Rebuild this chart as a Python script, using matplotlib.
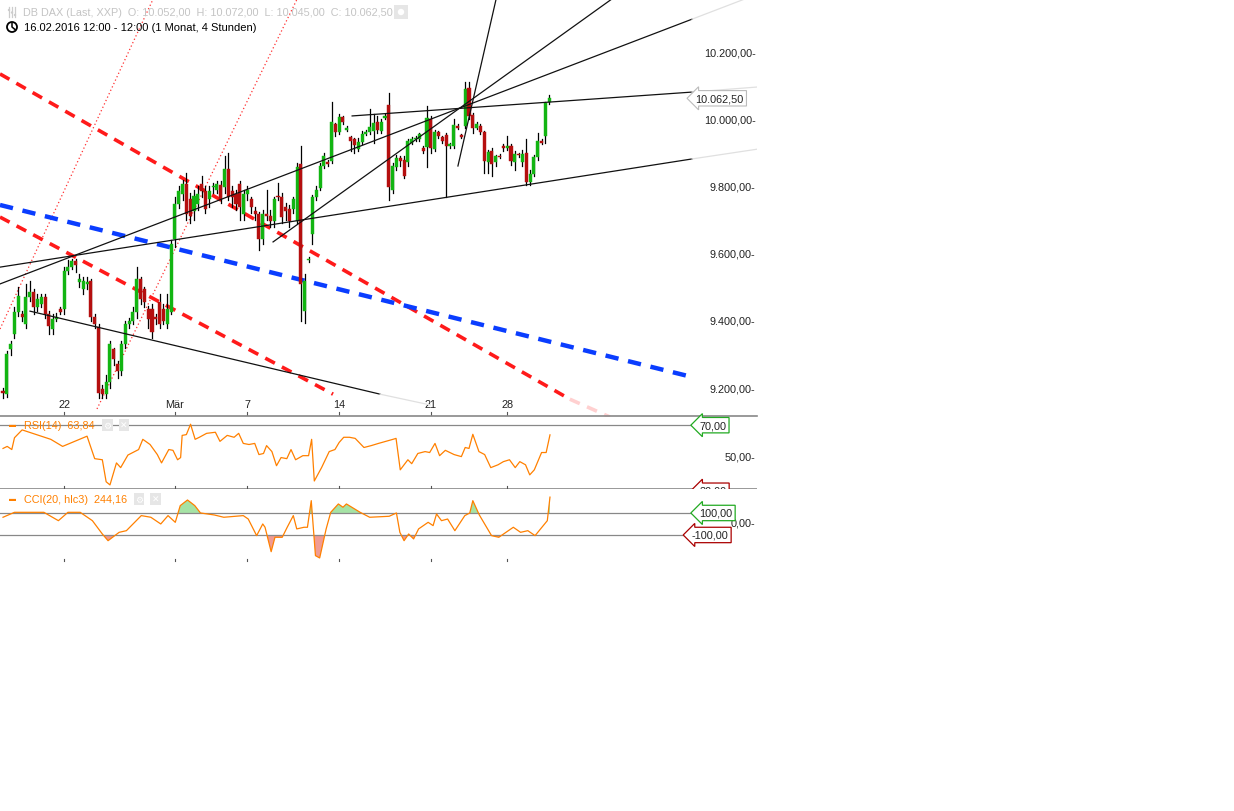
import matplotlib
matplotlib.use("Agg")
import matplotlib.pyplot as plt
from matplotlib.patches import Rectangle, Circle
import numpy as np

plt.rcParams['font.family'] = ['Liberation Sans', 'DejaVu Sans']

opens = [9190,9182,9316,9361,9426,9420,9391,9471,9486,9441,9450,9471,9420,9376,9405,9435,9435,9548,9560,9578,
         9516,9495,9510,9519,9411,9382,9197,9182,9218,9316,9271,9251,9331,9391,9400,9426,9524,9495,9435,9435,
         9411,9456,9435,9391,9426,9643,9748,9777,9807,9763,9727,9748,9807,9786,9763,9798,9790,9804,9798,9852,
         9786,9777,9807,9718,9777,9763,9727,9718,9643,9718,9712,9697,9771,9768,9739,9733,9733,9697,9867,9430,
         9580,9660,9770,9795,9862,9872,9876,9986,9962,10006,9968,9947,9940,9912,9932,9956,9962,9965,9992,9966,
         10005,10042,9790,9858,9885,9880,9873,9930,9940,9942,9915,9917,10000,9912,9962,9947,9953,9920,9920,9980,
         9952,9980,10093,10013,9975,9980,9962,9872,9905,9873,9892,9920,9915,9920,9873,9897,9872,9900,9813,9837,
         9887,9935,9950,10052]
closes = [9185,9301,9331,9426,9474,9411,9471,9486,9441,9465,9471,9420,9385,9405,9411,9426,9548,9560,9578,9565,
          9524,9519,9516,9411,9391,9185,9182,9218,9331,9286,9251,9331,9391,9400,9426,9524,9465,9456,9405,9367,
          9405,9391,9400,9435,9629,9748,9786,9807,9718,9712,9771,9777,9786,9733,9786,9798,9807,9763,9852,9768,
          9768,9748,9739,9777,9790,9739,9718,9643,9718,9712,9697,9763,9768,9709,9727,9697,9763,9858,9510,9520,
          9585,9770,9790,9862,9890,9868,9992,9962,10006,9992,9974,9935,9923,9932,9956,9962,9977,9990,9968,9992,
          10010,9798,9860,9885,9875,9832,9935,9940,9945,9955,9905,10005,9915,9962,9950,9935,9920,9925,9983,9975,
          9948,10090,10010,9974,9986,9962,9876,9902,9868,9890,9888,9915,9920,9876,9897,9893,9897,9812,9837,9887,
          9935,9930,10048,10062.5]
highs = [9200,9310,9340,9440,9500,9430,9510,9520,9495,9480,9480,9480,9430,9420,9425,9440,9560,9580,9585,9585,
         9540,9530,9530,9525,9420,9390,9210,9240,9340,9320,9280,9340,9400,9410,9440,9560,9530,9500,9445,9450,
         9420,9480,9450,9480,9640,9770,9800,9820,9840,9780,9790,9800,9830,9800,9800,9810,9815,9815,9890,9900,
         9800,9790,9815,9790,9800,9770,9740,9725,9730,9790,9730,9770,9810,9780,9750,9745,9770,9870,9920,9540,
         9590,9775,9800,9870,9900,9880,10050,9990,10015,10010,9980,9950,9945,9945,9965,9968,10030,10015,10010,10000,
         10015,10078,9870,9895,9890,9890,9940,9948,9950,9960,9920,10040,10010,9968,9965,9950,9960,9930,10000,9985,
         9955,10110,10110,10020,9992,9985,9965,9910,9915,9895,9896,9925,9950,9925,9905,9900,9910,9940,9850,9895,
         9960,9940,10050,10072]
lows = [9170,9175,9300,9350,9415,9400,9380,9460,9420,9430,9440,9410,9360,9360,9400,9420,9420,9540,9555,9545,
        9500,9480,9495,9400,9380,9170,9170,9170,9200,9270,9230,9240,9320,9380,9390,9410,9450,9440,9380,9350,
        9390,9380,9390,9380,9420,9620,9735,9760,9700,9690,9700,9730,9770,9720,9740,9780,9780,9750,9780,9760,
        9740,9730,9700,9700,9760,9720,9700,9610,9630,9700,9680,9680,9760,9690,9700,9680,9720,9690,9400,9395,
        9575,9630,9760,9790,9855,9860,9870,9950,9955,9985,9965,9905,9900,9905,9925,9952,9955,9930,9960,9960,
        10000,9760,9780,9850,9860,9825,9860,9925,9935,9935,9900,9858,9900,9905,9945,9930,9768,9915,9915,9970,
        9944,9975,10000,9960,9970,9955,9840,9840,9830,9860,9884,9905,9910,9865,9850,9888,9860,9805,9805,9830,
        9880,9925,9930,10045]

date_pos = [16, 45, 64, 88, 112, 132]
date_labels = ['22', 'Mär', '7', '14', '21', '28']
price_ticks = [10200, 10000, 9800, 9600, 9400, 9200]
price_labels = ['10.200,00', '10.000,00', '9.800,00', '9.600,00', '9.400,00', '9.200,00']

rsi_idx = [0,1.1,2.3,3,5,12.5,15.6,22,24,26,27,28,29.7,30.8,32.7,34.3,35.5,36.6,38.5,40.4,41.5,43.4,44.5,45.7,
           46.5,46.9,48,49.1,50.3,51.4,53.3,55.6,56.8,58.7,60.5,61.7,62.9,64.4,65.9,67,68.2,69,70.4,71.6,72.8,
           74.3,75.4,76.6,78.5,80,80.8,81.5,83.4,85.4,86.9,88,89.2,90.7,92.2,94.5,96.4,98.3,100.2,102.1,102.9,
           104,106,107,108.6,110.5,111.7,113.1,114.3,115.8,118.1,120,121,122,123,124.6,126.1,127.7,129.6,131,
           132.6,134.1,135.3,136.8,137.9,139.1,141,142.2,143.2]
rsi_val = [55.2,56.5,54.5,62,67,61,56.5,63,48.7,48,34,32,46,43,51,53,54.5,61,57.7,51.3,46,54.5,54,48,49.4,63.5,
           64,70.6,61,62.3,64.8,65.5,59.7,63.5,62.3,64.8,58.4,57.7,58.4,51.3,52,57,53.2,44.2,49.4,48.7,54.5,48,
           50.6,50.6,61,34.5,43,53.2,54.5,59,62.3,62.3,61.6,55.8,57,58.4,59.7,61,61.6,41.6,48,45.5,52,53.2,52.6,
           58.4,50.6,54,51.3,50,55.8,55.2,64.2,53.2,51.3,43,44.8,46.8,48,43,46.8,44.8,38.4,41.6,52.6,52.6,63.84]

cci_idx = [0,3.0,10.7,14.5,17.0,20.2,23.4,26.0,27.5,30.4,32.3,36.2,38.7,41.3,43.2,45.1,46.4,48.3,50.2,51.7,55.3,
           57.8,62.9,64.2,66.4,68.0,68.6,70.2,71.2,73.1,74.4,76.0,76.9,78.8,79.7,80.7,81.8,82.9,84.6,85.8,87.8,
           89.0,89.9,93.5,96.0,101.1,103.0,103.9,105.0,106.2,107.5,108.8,111.3,112.6,113.5,114.8,116.4,118.3,
           120.9,122.2,123.0,124.7,127.9,129.8,133.6,135.5,137.4,139.3,142.5,143.2]
cci_val = [61,106,106,30,106,106,30,-91,-152,-76,-61,76,61,0,76,15,167,218,167,100,82,61,76,45,-106,0,-30,-252,
           -121,-121,-30,76,-45,-30,-30,212,-288,-309,-45,106,182,152,182,106,61,70,100,-76,-152,-91,-136,-45,
           15,-15,91,30,45,-61,76,100,212,82,-106,-121,-30,-76,-61,-106,30,244.16]

black_lines = [((-0.79, 9560), (180.4, 9882)), ((-0.79, 9510), (180.4, 10298)),
               ((70.7, 9635), (159.4, 10358)), ((119.1, 9861), (129.1, 10358)),
               ((91.4, 10010), (180.4, 10081)), ((7.07, 9429), (98.7, 9182))]
grey_ext = [((180.4, 9882), (197.4, 9911)), ((180.4, 10298), (194.2, 10358)),
            ((180.4, 10081), (197.4, 10096)), ((98.7, 9182), (111.8, 9150))]
red_dash = [((-0.79, 10135), (148.4, 9167)), ((-0.79, 9709), (86.4, 9182))]
red_dash_ext = [((148.4, 9167), (158.9, 9114))]
blue_dash = [((-0.79, 9745), (180.4, 9233))]
red_dot = [((-0.79, 9376), (39.3, 10358)), ((24.6, 9138), (77.0, 10358))]

W, H = 1234, 812
fig = plt.figure(figsize=(W/100, H/100), dpi=100)
fig.patch.set_facecolor('white')

def axes_px(y0, y1):
    return fig.add_axes([0, 1 - y1/H, 757/W, (y1 - y0)/H])

XL = (-0.79, 197.4)
ax = axes_px(0, 418)
ax.set_xlim(*XL); ax.set_ylim(9114, 10358)
ax.axis('off')

for (a, b) in red_dot:
    ax.plot([a[0], b[0]], [a[1], b[1]], color='#ff3030', lw=0.9, ls=(0, (1, 2)), zorder=1)
for (a, b) in red_dash:
    ax.plot([a[0], b[0]], [a[1], b[1]], color='#ff1a1a', lw=2.6, ls=(0, (3, 2.2)), zorder=1)
for (a, b) in red_dash_ext:
    ax.plot([a[0], b[0]], [a[1], b[1]], color='#ffd0d0', lw=2.6, ls=(0, (3, 2.2)), zorder=1)
for (a, b) in blue_dash:
    ax.plot([a[0], b[0]], [a[1], b[1]], color='#0a3dff', lw=3.2, ls=(0, (3, 2.2)), zorder=1)

cw = 0.8
for i, (o, c, h, l) in enumerate(zip(opens, closes, highs, lows)):
    ax.plot([i, i], [l, h], color='black', lw=0.9, zorder=2)
    col = '#12b512' if c >= o else '#b50f0f'
    hgt = max(abs(c - o), 2.5)
    ax.add_patch(Rectangle((i - cw/2, min(o, c)), cw, hgt, facecolor=col, edgecolor=col, lw=0.3, zorder=3))

for (a, b) in black_lines:
    ax.plot([a[0], b[0]], [a[1], b[1]], color='#111111', lw=0.9, zorder=4)
for (a, b) in grey_ext:
    ax.plot([a[0], b[0]], [a[1], b[1]], color='#e0e0e0', lw=0.9, zorder=4)

for p, lab in zip(price_ticks, price_labels):
    ax.text(197.0, p, lab + '-', ha='right', va='center', fontsize=7.8, color='#222222', zorder=6)
ax.text(181.3, closes[-1], '10.062,50', ha='left', va='center', fontsize=7.8, color='#222222', zorder=6,
        bbox=dict(boxstyle='larrow,pad=0.25', fc='white', ec='#bbbbbb', lw=0.8))
for p, lab in zip(date_pos, date_labels):
    ax.text(p, 9152, lab, ha='center', va='center', fontsize=7.8, color='#222222')
    ax.plot([p, p], [9120, 9128], color='#555555', lw=0.8)
ax.plot(XL, [9116, 9116], color='#888888', lw=1.2, clip_on=False)

# RSI
rx = axes_px(418, 490)
rx.set_xlim(*XL); rx.set_ylim(29.4, 75.2)
rx.axis('off')
rx.plot([XL[0], 181.5], [70, 70], color='#888888', lw=0.9)
rx.plot(rsi_idx, rsi_val, color='#ff8000', lw=0.9)
rx.plot(XL, [29.5, 29.5], color='#888888', lw=1.2)
rx.text(182.3, 70, '70,00', ha='left', va='center', fontsize=7.8, color='#222222',
        bbox=dict(boxstyle='larrow,pad=0.25', fc='white', ec='#22aa22', lw=0.9))
rx.text(197.0, 50, '50,00-', ha='right', va='center', fontsize=7.8, color='#222222')
rx.text(182.3, 28.3, '30,00', ha='left', va='center', fontsize=7.8, color='#222222', clip_on=True,
        bbox=dict(boxstyle='larrow,pad=0.25', fc='white', ec='#aa0000', lw=0.9))
for p in date_pos:
    rx.plot([p, p], [29.5, 31.5], color='#555555', lw=0.8)
rx.text(1.5, 70.2, '▬', fontsize=5, color='#ff8000', va='center')
rx.text(5.5, 70, 'RSI(14)  63,84', fontsize=7.8, color='#ff8000', va='center')
for k, s in enumerate(['⚙', '✕']):
    rx.text(27.4 + 4.3*k, 70, s, fontsize=6.5, color='white', va='center', ha='center',
            bbox=dict(boxstyle='square,pad=0.15', fc='#e6e6e6', ec='none'))

# CCI
cx = axes_px(490, 565)
cx.set_xlim(*XL); cx.set_ylim(-364, 318)
cx.axis('off')
ci = np.array(cci_idx); cv = np.array(cci_val)
cx.fill_between(ci, cv, 100, where=cv > 100, interpolate=True, color='#8fdc8f', alpha=0.8, lw=0)
cx.fill_between(ci, cv, -100, where=cv < -100, interpolate=True, color='#ee8a80', alpha=0.85, lw=0)
cx.plot([XL[0], 181.5], [100, 100], color='#888888', lw=0.9)
cx.plot([XL[0], 181.5], [-100, -100], color='#888888', lw=0.9)
cx.plot(ci, cv, color='#ff8000', lw=0.9)
cx.text(197.0, 10, '0,00-', ha='right', va='center', fontsize=7.8, color='#222222')
cx.text(182.3, 100, '100,00', ha='left', va='center', fontsize=7.8, color='#222222',
        bbox=dict(boxstyle='larrow,pad=0.25', fc='white', ec='#22aa22', lw=0.9))
cx.text(180.3, -100, '-100,00', ha='left', va='center', fontsize=7.8, color='#222222',
        bbox=dict(boxstyle='larrow,pad=0.25', fc='white', ec='#aa0000', lw=0.9))
for p in date_pos:
    cx.plot([p, p], [-340, -320], color='#555555', lw=0.8)
cx.text(1.5, 228, '▬', fontsize=5, color='#ff8000', va='center')
cx.text(5.5, 225, 'CCI(20, hlc3)  244,16', fontsize=7.8, color='#ff8000', va='center')
for k, s in enumerate(['⚙', '✕']):
    cx.text(35.6 + 4.3*k, 225, s, fontsize=6.5, color='white', va='center', ha='center',
            bbox=dict(boxstyle='square,pad=0.15', fc='#e6e6e6', ec='none'))

# header
hx = fig.add_axes([0, 0, 1, 1], facecolor='none')
hx.set_xlim(0, W); hx.set_ylim(H, 0); hx.axis('off')
for k in range(3):  # indicator icon
    hx.plot([9 + 3*k, 9 + 3*k], [8, 18], color='#cccccc', lw=0.9)
    hx.add_patch(Circle((9 + 3*k, 11 + 2.5*k), 1.2, fc='#cccccc', ec='none'))
hx.text(23, 13, 'DB DAX (Last, XXP)  O: 10.052,00  H: 10.072,00  L: 10.045,00  C: 10.062,50',
        fontsize=7.8, color='#c4c4c4', va='center')
hx.add_patch(Rectangle((394, 6), 14, 14, fc='#e6e6e6', ec='none'))
hx.add_patch(Circle((401, 13), 3.2, fc='white', ec='none'))
hx.add_patch(Circle((12, 28), 5, fc='none', ec='black', lw=1.3))
hx.plot([12, 12, 15], [24.5, 28, 30.5], color='black', lw=1.1)
hx.text(24, 28, '16.02.2016 12:00 - 12:00 (1 Monat, 4 Stunden)', fontsize=8, color='black', va='center')

fig.savefig('out.png', dpi=100, facecolor='white')
